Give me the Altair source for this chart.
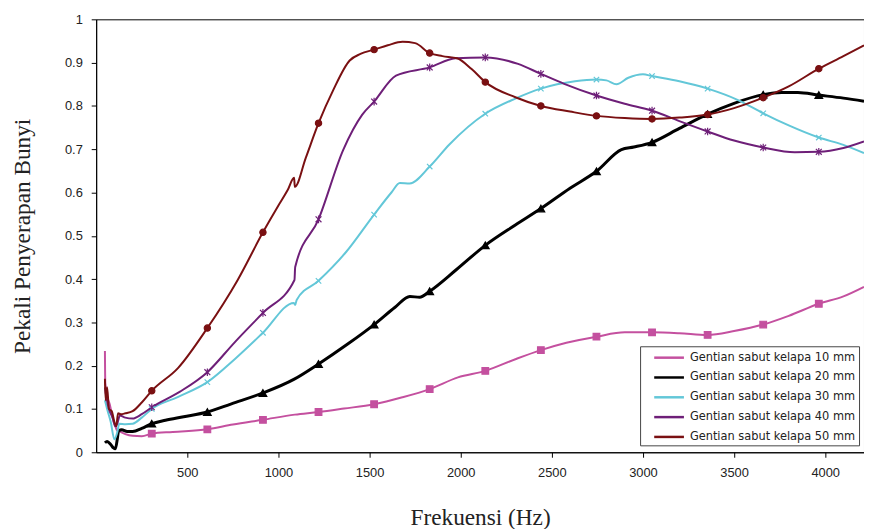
import altair as alt
import pandas as pd

names = ["Gentian sabut kelapa 10 mm", "Gentian sabut kelapa 20 mm",
         "Gentian sabut kelapa 30 mm", "Gentian sabut kelapa 40 mm",
         "Gentian sabut kelapa 50 mm"]
colors = ["#C4509F", "#000000", "#63C7D8", "#6E1F78", "#7A1012"]
marker_freq = [305, 610, 915, 1220, 1525, 1830, 2135, 2440, 2745, 3050, 3355, 3660, 3965]

f10 = [48, 50, 60, 75, 90, 105, 115, 130, 160, 200, 250, 305, 420, 610, 750, 915, 1090, 1220,
       1360, 1525, 1680, 1830, 1985, 2135, 2300, 2440, 2580, 2745, 2900, 3050, 3200, 3355, 3500,
       3660, 3800, 3965, 4100, 4213]
v10 = [0.234, 0.16, 0.13, 0.11, 0.08, 0.06, 0.05, 0.048, 0.042, 0.038, 0.037, 0.043, 0.047, 0.053,
       0.064, 0.075, 0.087, 0.093, 0.101, 0.111, 0.127, 0.146, 0.173, 0.188, 0.215, 0.236, 0.253,
       0.267, 0.277, 0.277, 0.275, 0.271, 0.28, 0.295, 0.315, 0.343, 0.36, 0.382]

f20 = [48, 60, 80, 95, 105, 125, 140, 170, 200, 250, 305, 380, 480, 610, 742, 915, 1087, 1220,
       1380, 1525, 1640, 1721, 1775, 1830, 1974, 2135, 2300, 2440, 2600, 2745, 2882, 2950, 3050,
       3200, 3355, 3500, 3660, 3761, 3850, 3965, 4100, 4213]
v20 = [0.022, 0.025, 0.018, 0.01, 0.008, 0.05, 0.052, 0.048, 0.048, 0.055, 0.066, 0.074, 0.082,
       0.093, 0.112, 0.137, 0.169, 0.204, 0.25, 0.295, 0.335, 0.36, 0.358, 0.372, 0.421, 0.478,
       0.525, 0.563, 0.61, 0.649, 0.699, 0.705, 0.716, 0.748, 0.781, 0.806, 0.826, 0.831, 0.831,
       0.825, 0.818, 0.811]

f30 = [48, 60, 80, 100, 115, 127, 160, 200, 250, 305, 450, 610, 760, 915, 1085, 1092, 1100, 1220,
       1370, 1525, 1620, 1666, 1720, 1830, 1938, 2135, 2300, 2440, 2627, 2745, 2800, 2855, 2920,
       3000, 3050, 3200, 3355, 3525, 3660, 3800, 3965, 4100, 4213]
v30 = [0.12, 0.1, 0.07, 0.03, 0.045, 0.066, 0.065, 0.066, 0.08, 0.1, 0.128, 0.162, 0.215, 0.276,
       0.345, 0.34, 0.352, 0.396, 0.462, 0.549, 0.6, 0.622, 0.621, 0.66, 0.711, 0.782, 0.817, 0.84,
       0.857, 0.861, 0.859, 0.85, 0.865, 0.873, 0.869, 0.857, 0.84, 0.813, 0.783, 0.755, 0.727,
       0.71, 0.691]

f40 = [48, 55, 70, 90, 105, 115, 130, 160, 200, 250, 305, 460, 610, 760, 915, 1088, 1092, 1220,
       1355, 1409, 1460, 1525, 1645, 1830, 1971, 2135, 2315, 2440, 2568, 2745, 2900, 3050, 3200,
       3355, 3500, 3660, 3833, 3965, 4100, 4213]
v40 = [0.15, 0.13, 0.1, 0.08, 0.06, 0.065, 0.085, 0.08, 0.078, 0.088, 0.104, 0.14, 0.185, 0.254,
       0.322, 0.398, 0.428, 0.538, 0.698, 0.745, 0.78, 0.81, 0.87, 0.889, 0.91, 0.912, 0.897,
       0.874, 0.851, 0.824, 0.805, 0.789, 0.765, 0.741, 0.72, 0.704, 0.693, 0.694, 0.703, 0.718]

f50 = [48, 52, 60, 70, 85, 100, 110, 120, 135, 160, 200, 250, 305, 450, 610, 775, 915, 1000,
       1050, 1086, 1090, 1150, 1220, 1300, 1391, 1450, 1525, 1600, 1681, 1750, 1830, 1900, 1980,
       2060, 2135, 2300, 2440, 2600, 2745, 2900, 3050, 3200, 3355, 3500, 3660, 3800, 3965, 4100,
       4213]
v50 = [0.17, 0.12, 0.15, 0.1, 0.095, 0.07, 0.06, 0.09, 0.088, 0.09, 0.095, 0.115, 0.142, 0.195,
       0.287, 0.397, 0.508, 0.57, 0.605, 0.634, 0.613, 0.68, 0.76, 0.836, 0.905, 0.92, 0.93,
       0.94, 0.948, 0.945, 0.922, 0.915, 0.91, 0.885, 0.855, 0.82, 0.8, 0.787, 0.777, 0.772,
       0.77, 0.773, 0.78, 0.795, 0.819, 0.845, 0.886, 0.915, 0.94]

series = [(names[0], f10, v10), (names[1], f20, v20), (names[2], f30, v30),
          (names[3], f40, v40), (names[4], f50, v50)]
rows = []
for name, fs, vs in series:
    for f, v in zip(fs, vs):
        rows.append({"series": name, "f": f, "v": v, "mark": f in marker_freq})
df = pd.DataFrame(rows)

xpath = "M-1,-1L1,1M-1,1L1,-1"
astpath = "M-1,-1L1,1M-1,1L1,-1M0,-1.3L0,1.3"
shapes = ["square", "triangle-up", xpath, astpath, "circle"]
sizes = [45, 60, 30, 35, 40]
legend_line = "M-2.143,0L2.143,0"

color_scale = alt.Scale(domain=names, range=colors)
x_enc = alt.X("f:Q", scale=alt.Scale(domain=[0, 4213], nice=False, zero=False),
              axis=alt.Axis(values=[500, 1000, 1500, 2000, 2500, 3000, 3500, 4000], format="d",
                            title="Frekuensi (Hz)", titlePadding=27))
y_enc = alt.Y("v:Q", scale=alt.Scale(domain=[0, 1], nice=False),
              axis=alt.Axis(values=[0, 0.1, 0.2, 0.3, 0.4, 0.5, 0.6, 0.7, 0.8, 0.9, 1],
                            format="~g", title="Pekali Penyerapan Bunyi", titlePadding=30))

lines = alt.Chart(df).mark_line(interpolate="monotone").encode(
    x=x_enc, y=y_enc,
    color=alt.Color("series:N", scale=color_scale, title=None,
                    legend=alt.Legend(orient="none", legendX=549, legendY=330,
                                      labelExpr="datum.label + '\u00a0\u00a0'")),
    strokeWidth=alt.condition(alt.datum.series == names[1], alt.value(3), alt.value(2)),
    order=alt.Order("f:Q"),
)

layers = [lines]
for name, col, shp, sz in zip(names, colors, shapes, sizes):
    layers.append(
        alt.Chart(df).transform_filter(
            (alt.datum.series == name) & alt.datum.mark
        ).mark_point(filled=True, shape=shp, size=sz, fill=col, stroke=col,
                     strokeWidth=1.2, opacity=1).encode(x="f:Q", y="v:Q")
    )

chart = alt.layer(*layers).properties(
    width=775, height=437,
    autosize=alt.AutoSizeParams(type="none"),
    padding={"left": 89, "top": 9, "right": 0, "bottom": 75},
).configure_view(stroke="black", strokeWidth=1).configure_axis(
    grid=False, domainColor="black", tickColor="black", tickSize=5, labelPadding=9,
    labelFont="Liberation Sans", labelFontSize=13, labelColor="#222",
    titleFont="Liberation Serif", titleFontSize=23.5, titleFontWeight="normal", titleColor="#222",
).configure_legend(
    symbolType=legend_line, symbolSize=196, symbolStrokeWidth=2.5, symbolOffset=17.75,
    symbolFillColor="transparent",
    labelFont="DejaVu Sans", labelFontSize=11.5, labelColor="#222", labelOffset=12.5,
    strokeColor="#444", fillColor="white", padding=3, rowPadding=6, labelLimit=400,
)

chart.save("out.html", embed_options={"renderer": "svg", "actions": False})
